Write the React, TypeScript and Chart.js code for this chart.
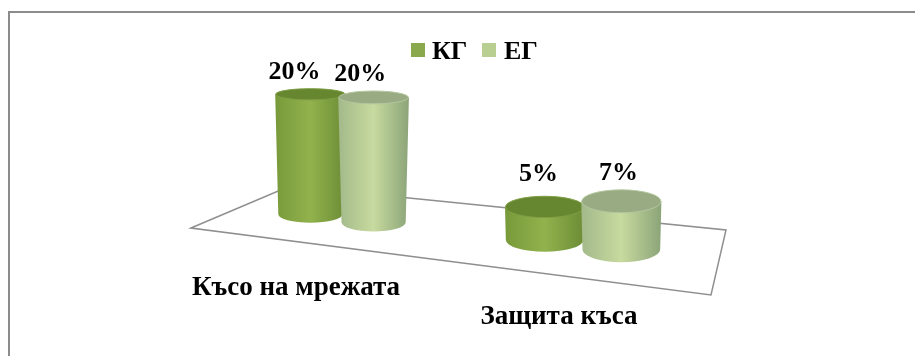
import React, { useEffect, useRef } from "react";
import { Chart, registerables } from "chart.js";

Chart.register(...registerables);

const categories = ["Късо на мрежата", "Защита къса"];
const groupNames = ["КГ", "ЕГ"];
const controlValues = [20, 5];
const experimentValues = [20, 7];

const SERIF = "'Liberation Serif', serif";
const FRAME_COLOR = "#8c8c8c";
const FLOOR_COLOR = "#8f8f8f";
const LEGEND_COLORS = ["#8aa84c", "#b9cf92"];

// Body shading stops (left, middle, right) and top-cap colour per series.
const BODY_SHADES = [
  ["#789a3a", "#91b24c", "#6c8c36"],
  ["#a3b98a", "#c7da9f", "#8ba478"],
];
const CAP_SHADES = ["#66872f", "#98ab83"];
const RIM_SHADES = ["#7f9e45", "#b4c79f"];

// Floor plane outline, in canvas pixels.
const FLOOR_OUTLINE: [number, number][] = [
  [191, 228],
  [290, 186],
  [726, 230],
  [711, 295],
];

const FLOOR_TILT = 0.11;
const SERIES_DEPTH = [0, 1];
const SERIES_HEIGHT = [1, 1.04];
const VALUE_FONT = `bold 26px ${SERIF}`;
const CATEGORY_FONT = `bold 27px ${SERIF}`;
const LEGEND_FONT = `bold 26px ${SERIF}`;
const CATEGORY_SHIFT = [-46, -24];
const CATEGORY_DROP = [77, 80];
const LABEL_RAISE = [
  [9, 15],
  [9, 9],
];

// Legend swatches and names sit close together, tighter than the stock legend allows.
const LEGEND_BOX_X = [411, 482];
const LEGEND_TEXT_X = [432, 504];
const LEGEND_BOX_TOP = 43;
const LEGEND_BOX_SIZE = 14;
const LEGEND_BASELINE = 59;

// Apparent size grows toward the right side of the floor.
const perspective = (center: number) => 1 + (center - 462) * 0.0008;
const ellipseRy = (x: number, y: number) => 6 + (y - 90) * 0.02 + (x - 310) * 0.012;

const cylinderPlugin = {
  id: "cylinders",
  beforeDatasetsDraw(chart: any) {
    const { ctx } = chart;
    ctx.save();

    // Frame: only the top and left edges show.
    ctx.strokeStyle = FRAME_COLOR;
    ctx.lineWidth = 2;
    ctx.beginPath();
    ctx.moveTo(9, chart.height);
    ctx.lineTo(9, 12);
    ctx.lineTo(chart.width, 12);
    ctx.stroke();

    ctx.strokeStyle = FLOOR_COLOR;
    ctx.lineWidth = 1.5;
    ctx.beginPath();
    FLOOR_OUTLINE.forEach(([x, y], i) => (i ? ctx.lineTo(x, y) : ctx.moveTo(x, y)));
    ctx.closePath();
    ctx.stroke();

    ctx.font = LEGEND_FONT;
    ctx.textAlign = "left";
    ctx.textBaseline = "alphabetic";
    chart.data.datasets.forEach((dataset: any, ds: number) => {
      ctx.fillStyle = dataset.backgroundColor;
      ctx.fillRect(LEGEND_BOX_X[ds], LEGEND_BOX_TOP, LEGEND_BOX_SIZE, LEGEND_BOX_SIZE);
      ctx.fillStyle = "#000000";
      ctx.fillText(dataset.label, LEGEND_TEXT_X[ds], LEGEND_BASELINE);
    });
    ctx.restore();
  },
  // Flat bars are replaced by the cylinders drawn below.
  beforeDatasetDraw() {
    return false;
  },
  afterDatasetsDraw(chart: any) {
    const { ctx, scales, chartArea } = chart;
    const xScale = scales.x;
    const yScale = scales.y;
    const zero = yScale.getPixelForValue(0);

    chart.data.datasets.forEach((dataset: any, ds: number) => {
      chart.getDatasetMeta(ds).data.forEach((bar: any, i: number) => {
        const center = xScale.getPixelForValue(i);
        const p = perspective(center);
        const cx = center + (bar.x - center) * p;
        const value = dataset.data[i];
        const height =
          (zero - yScale.getPixelForValue(value)) * Math.sqrt(p) * SERIES_HEIGHT[ds];
        const baseY = zero + FLOOR_TILT * (cx - chartArea.left) + SERIES_DEPTH[ds];
        const topY = baseY - height;
        const baseW = bar.width * p + 1;
        const topW = baseW + height * 0.052;
        const baseRy = ellipseRy(cx, baseY);
        const topRy = ellipseRy(cx, topY);

        ctx.save();
        const body = ctx.createLinearGradient(cx - topW / 2, 0, cx + topW / 2, 0);
        body.addColorStop(0, BODY_SHADES[ds][0]);
        body.addColorStop(0.5, BODY_SHADES[ds][1]);
        body.addColorStop(1, BODY_SHADES[ds][2]);
        ctx.fillStyle = body;
        ctx.beginPath();
        ctx.moveTo(cx - topW / 2, topY);
        ctx.lineTo(cx - baseW / 2, baseY);
        ctx.ellipse(cx, baseY, baseW / 2, baseRy, 0, Math.PI, 0, true);
        ctx.lineTo(cx + topW / 2, topY);
        ctx.closePath();
        ctx.fill();

        ctx.fillStyle = CAP_SHADES[ds];
        ctx.strokeStyle = RIM_SHADES[ds];
        ctx.lineWidth = 1;
        ctx.beginPath();
        ctx.ellipse(cx, topY, topW / 2 - 0.5, topRy - 0.5, 0, 0, Math.PI * 2);
        ctx.fill();
        ctx.stroke();
        ctx.restore();

        // Value caption above the cap, pulled toward the left of the cylinder.
        ctx.save();
        ctx.fillStyle = "#000000";
        ctx.font = VALUE_FONT;
        ctx.textAlign = "center";
        ctx.textBaseline = "alphabetic";
        ctx.fillText(
          `${value}%`,
          cx - 16 + (cx - 310) * 0.042,
          topY - topRy - LABEL_RAISE[ds][i]
        );
        ctx.restore();
      });
    });

    // Category names follow the slope of the floor's front edge.
    ctx.save();
    ctx.fillStyle = "#000000";
    ctx.font = CATEGORY_FONT;
    ctx.textAlign = "center";
    ctx.textBaseline = "alphabetic";
    categories.forEach((name, i) => {
      const center = xScale.getPixelForValue(i);
      const y = zero + FLOOR_TILT * (center - chartArea.left) + CATEGORY_DROP[i];
      ctx.fillText(name, center + CATEGORY_SHIFT[i], y);
    });
    ctx.restore();
  },
};

export default function App() {
  const canvasRef = useRef<HTMLCanvasElement>(null);

  useEffect(() => {
    const canvas = canvasRef.current;
    if (!canvas) return;
    const chart = new Chart(canvas, {
      type: "bar",
      data: {
        labels: categories,
        datasets: [
          { label: groupNames[0], data: controlValues, backgroundColor: LEGEND_COLORS[0] },
          { label: groupNames[1], data: experimentValues, backgroundColor: LEGEND_COLORS[1] },
        ],
      },
      options: {
        responsive: false,
        animation: false,
        layout: { padding: { left: 221.5, right: 211.5, top: 48, bottom: 151.6 } },
        datasets: { bar: { categoryPercentage: 0.58, barPercentage: 1 } },
        elements: { bar: { borderWidth: 0 } },
        scales: {
          x: { display: false },
          y: { display: false, min: 0, max: 24.8 },
        },
        plugins: {
          tooltip: { enabled: false },
          legend: { display: false },
        },
      },
      plugins: [cylinderPlugin],
    } as any);
    return () => chart.destroy();
  }, []);

  return (
    <div style={{ position: "absolute", left: 0, top: 0 }}>
      <canvas
        ref={canvasRef}
        width={915}
        height={356}
        style={{ display: "block", background: "#ffffff" }}
      />
    </div>
  );
}
